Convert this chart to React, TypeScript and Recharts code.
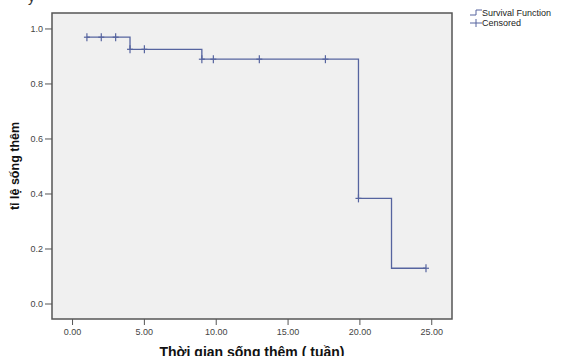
import {
	CartesianGrid,
	ComposedChart,
	Line,
	ReferenceArea,
	Scatter,
	XAxis,
	YAxis,
} from "recharts";

// step curve: time (weeks) and survival at each step
const stepTimes = [1, 4, 9, 19.9, 22.2, 24.6];
const stepSurvival = [0.97, 0.926, 0.89, 0.384, 0.13, 0.13];

// censored observations
const censoredTimes = [1, 2, 3, 4, 5, 9, 9.8, 13, 17.6, 19.9, 24.6];
const censoredSurvival = [0.97, 0.97, 0.97, 0.926, 0.926, 0.89, 0.89, 0.89, 0.89, 0.384, 0.13];

const xTicks = [0, 5, 10, 15, 20, 25];
const yTicks = [0, 0.2, 0.4, 0.6, 0.8, 1.0];

const xDomain: [number, number] = [-1.43, 26.41];
const yDomain: [number, number] = [-0.0545, 1.058];

const lineColor = "#56649f";
const font = "'Liberation Sans', Arial, sans-serif";

const stepData = stepTimes.map((t, i) => ({ t, s: stepSurvival[i] }));
const censoredData = censoredTimes.map((t, i) => ({ t, s: censoredSurvival[i] }));

function CensorMark(props: any) {
	const { cx, cy } = props;
	if (cx == null || cy == null) return null;
	return (
		<g stroke={lineColor} strokeWidth={1.2}>
			<line x1={cx} y1={cy - 4} x2={cx} y2={cy + 4} />
			<line x1={cx - 3} y1={cy} x2={cx + 3} y2={cy} />
		</g>
	);
}

function XTitle(props: any) {
	const { viewBox } = props;
	return (
		<text
			x={viewBox.x + viewBox.width / 2}
			y={357}
			textAnchor="middle"
			fontFamily={font}
			fontWeight="bold"
			fontSize={14}
			fill="#111"
		>
			Thời gian sống thêm ( tuần)
		</text>
	);
}

function YTitle(props: any) {
	const { viewBox } = props;
	const cy = viewBox.y + viewBox.height / 2;
	return (
		<text
			x={19}
			y={cy}
			transform={`rotate(-90 19 ${cy})`}
			textAnchor="middle"
			fontFamily={font}
			fontWeight="bold"
			fontSize={12.5}
			fill="#111"
		>
			tỉ lệ sống thêm
		</text>
	);
}

function LegendBox() {
	return (
		<div
			style={{
				position: "absolute",
				left: 470,
				top: 8,
				fontFamily: font,
				fontSize: 9,
				color: "#222",
				lineHeight: "10px",
			}}
		>
			<div style={{ display: "flex", alignItems: "center" }}>
				<svg width={12} height={10}>
					<polyline points="0,7 6,7 6,2 12,2" fill="none" stroke={lineColor} strokeWidth={1} />
				</svg>
				<span>Survival Function</span>
			</div>
			<div style={{ display: "flex", alignItems: "center" }}>
				<svg width={12} height={10}>
					<line x1={0} y1={5} x2={12} y2={5} stroke={lineColor} strokeWidth={1} />
					<line x1={6} y1={1} x2={6} y2={9} stroke={lineColor} strokeWidth={1} />
				</svg>
				<span>Censored</span>
			</div>
		</div>
	);
}

export default function App() {
	return (
		<div style={{ position: "absolute", left: 0, top: 0, width: 576, height: 356, background: "#fff", overflow: "hidden" }}>
			<span
				style={{ position: "absolute", left: 28, top: -11, fontFamily: font, fontSize: 14, color: "#333" }}
			>
				y
			</span>
			<ComposedChart
				width={576}
				height={356}
				margin={{ top: 13, right: 124, bottom: 0, left: 12 }}
			>
				<CartesianGrid horizontal={false} vertical={false} fill="#f0f0f0" />
				<XAxis
					dataKey="t"
					type="number"
					domain={xDomain}
					ticks={xTicks}
					allowDataOverflow
					height={37}
					tickSize={6}
					tickMargin={4}
					axisLine={false}
					tickLine={{ stroke: "#555" }}
					tick={{ fontSize: 9, fontFamily: font, fill: "#444" }}
					tickFormatter={(v: number) => v.toFixed(2)}
					label={<XTitle />}
				/>
				<YAxis
					type="number"
					domain={yDomain}
					ticks={yTicks}
					allowDataOverflow
					width={40}
					tickSize={7}
					tickMargin={2}
					axisLine={false}
					tickLine={{ stroke: "#555" }}
					tick={{ fontSize: 9, fontFamily: font, fill: "#444" }}
					tickFormatter={(v: number) => v.toFixed(1)}
					label={<YTitle />}
				/>
				<Line
					data={stepData}
					dataKey="s"
					type="stepAfter"
					stroke={lineColor}
					strokeWidth={1.3}
					dot={false}
					activeDot={false}
					isAnimationActive={false}
				/>
				<Scatter
					data={censoredData}
					dataKey="s"
					shape={<CensorMark />}
					isAnimationActive={false}
				/>
				<ReferenceArea
					x1={xDomain[0]}
					x2={xDomain[1]}
					y1={yDomain[0]}
					y2={yDomain[1]}
					fill="none"
					stroke="#555"
					strokeWidth={1.5}
					ifOverflow="visible"
				/>
			</ComposedChart>
			<LegendBox />
		</div>
	);
}
